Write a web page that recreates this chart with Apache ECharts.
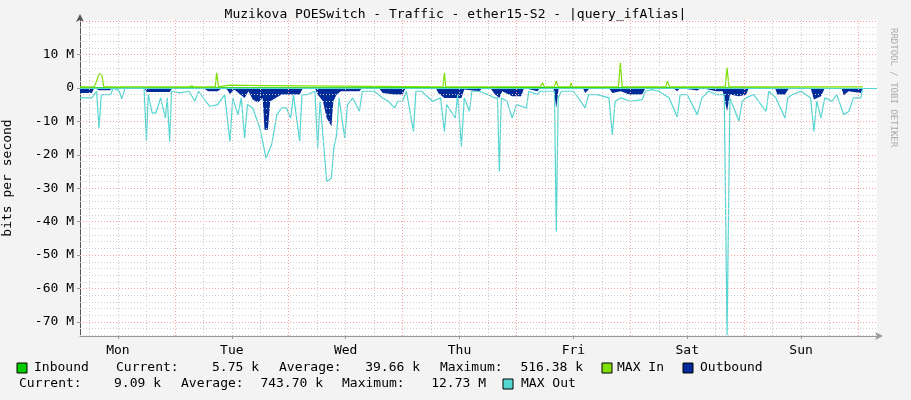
<!DOCTYPE html>
<html>
<head>
<meta charset="utf-8">
<script src="https://cdn.jsdelivr.net/npm/echarts@6/dist/echarts.min.js"></script>
<style>
  html, body { margin: 0; padding: 0; background: #f3f3f3; }
  #chart { width: 911px; height: 400px; }
</style>
</head>
<body>
<div id="chart"></div>
<script>
// hours since Mon 00:00, values in Mbit/s
const dayNames = ['Mon', 'Tue', 'Wed', 'Thu', 'Fri', 'Sat', 'Sun']
const dayLabelHours = [12, 36, 60, 84, 108, 132, 156]
const yLabelValues = [10, 0, -10, -20, -30, -40, -50, -60, -70]

const inbound = [[4, 0.2], [60, 0.2], [100, 0.3], [140, 0.2], [169, 0.2]]

const maxIn = [[4, 0.3], [7, 0.3], [7.5, 2], [8, 4.2], [8.6, 4], [9, 0.3], [18, 0.3], [18.1, 0.8], [18.4, 0.3],
  [27, 0.3], [27.5, 0.6], [28, 0.3], [32.5, 0.3], [32.8, 4.5], [33.2, 0.3], [35.6, 0.8], [36, 0.3], [42.9, 0.7],
  [43.3, 0.3], [80.5, 0.3], [80.8, 4.5], [81.1, 0.3], [101, 0.3], [101.5, 1.5], [101.9, 0.3], [104, 0.3],
  [104.4, 2], [104.8, 0.3], [107.3, 0.3], [107.5, 1.5], [107.8, 0.3], [117.5, 0.3], [117.9, 7.5], [118.3, 0.3],
  [127.5, 0.3], [127.8, 2], [128.3, 0.3], [140, 0.3], [140.4, 6], [140.8, 0.3], [154.3, 0.3], [154.6, 0.8],
  [155, 0.3], [169, 0.3]]

const outbound = [[4, -1.5], [6.5, -1.5], [7, 0], [8, -0.7], [10.3, -0.7], [11, 0], [17.5, 0], [18.1, -1.2],
  [22.9, -1.2], [23.5, 0], [30, 0], [31, -1], [33, -1], [34, 0], [35, -0.5], [35.6, -1.8], [36.5, -0.5],
  [38.7, -3], [39.5, -1], [40.4, -3.5], [41.5, -4.4], [42.5, -3], [42.9, -12.5], [43.6, -12.5], [44.1, -4],
  [46.5, -2], [48.4, -2], [50.3, -2], [51, 0], [53.5, 0], [54.1, -2], [55.2, -4], [56, -9], [57, -11.5],
  [57.4, -4], [58.1, -2], [59, -1], [62.9, -1], [63.5, 0], [67, 0], [67.8, -1.5], [70.3, -2], [72, -2],
  [72.6, 0], [79, 0], [79.5, -1.5], [80.8, -3], [83.1, -3], [84.4, -3], [85, -0.5], [88.2, -1], [88.8, 0],
  [90.5, 0], [91.4, -1.8], [92.4, -3], [93, -1], [95.1, -2.5], [97, -2.5], [97.6, 0], [100.4, -1], [101, 0],
  [103.8, 0], [104.4, -6], [104.9, 0], [110, 0], [110.5, -1.5], [111.5, 0], [115.5, 0], [116.2, -1.5],
  [118, -1], [119.8, -2], [122.5, -2], [123.2, 0], [129, 0], [129.9, -1], [130.5, 0], [134.1, -0.8], [135, 0],
  [138.1, -1], [139.5, -1], [140.4, -7], [141, -2], [142.9, -2.5], [144.4, -2], [145, 0], [150.5, 0],
  [151, -2], [152.6, -2], [153.5, 0], [158, 0], [158.7, -3.5], [160.2, -2.5], [161, 0], [164.5, 0],
  [165, -2.2], [166, -1], [168.6, -1.5], [169, 0]]

const maxOut = [[4, -3], [6.5, -3], [7.5, -1], [8, -12], [8.5, -2], [10.5, -2], [11, 0], [12.3, -1], [12.8, -3.3],
  [13.5, 0], [17.5, 0], [18, -16], [18.4, -2], [19.2, -7.5], [20, -7.5], [21, -3], [22, -9], [22.4, -3],
  [22.9, -16], [23.3, -1], [25, -1.5], [27, -1], [28.2, -4], [29, -1], [30.5, -4], [31.4, -5.5], [33, -5],
  [34.5, -2], [35.6, -16], [36.2, -3], [37.3, -8], [38, -3], [38.7, -15], [39.3, -5], [40.4, -6], [41.9, -12],
  [42.5, -16], [43.2, -21], [44.4, -17], [45.5, -8], [46.5, -6], [47.5, -6], [48.4, -9], [49, -2], [50.3, -16],
  [50.8, -2], [52, -2], [53.5, -1], [54.1, -18], [54.6, -4], [55.2, -14], [56, -28], [57, -27], [57.5, -18],
  [58.1, -14], [58.6, -3], [59.8, -15], [60.4, -5], [61.5, -3], [62.9, -7], [63.5, -1], [66, -1], [67.8, -3],
  [69, -4], [70.3, -6], [71, -4], [72, -4], [72.8, -1], [74.3, -13], [74.8, -1], [76, -1], [78.3, -4],
  [80, -3], [80.8, -13], [81.3, -5], [83.1, -9], [83.6, -2], [84, -2], [84.4, -17.5], [85, -3], [86.1, -7],
  [86.6, -1], [88.2, -1], [90, -2], [91.4, -3], [92, -3], [92.4, -25], [92.8, -3], [94, -4], [95.1, -9],
  [96, -5], [98.1, -6], [98.6, -1], [100.4, -2], [101, -1], [104, -1], [104.4, -43], [104.8, -3], [105.5, -1],
  [108, -1], [110.5, -6], [111.2, -2], [113, -2], [115.5, -3], [116.2, -14], [116.8, -4], [118, -3], [120, -4],
  [122.5, -3.5], [123.2, -1], [124.6, -0.5], [126, -1], [128.2, -3], [129.9, -8.7], [130.5, -2], [132, -2],
  [134.1, -8], [135.1, -3], [136.5, -1], [138.1, -2], [139.8, -2], [140.4, -74], [141, -3], [142.9, -10],
  [143.6, -4], [144.4, -3], [146, -2], [148.6, -7], [149.2, -1], [150.7, -3], [152.6, -9], [153.2, -3],
  [154.1, -2], [156, -1], [158, -3], [158.7, -13], [159.3, -4], [160.2, -9], [161, -3], [162.5, -4],
  [163.5, -2], [165, -8], [166.1, -7], [167, -3], [168.6, -3], [169, 0]]

const X_MIN = 4
const X_MAX = 172
const Y_MIN = -74.2
const Y_MAX = 20.3
const FONT = 'DejaVu Sans Mono'

// grid lines: every 6h (red on midnight), every 2M (red on 10M)
let vLines = []
for (let h = 6; h < X_MAX; h += 6) {
  vLines.push({ xAxis: h, lineStyle: { color: h % 24 === 0 ? '#f4a0a0' : '#c8c8c8', type: [1, 2], width: 1 } })
}
let hLines = []
for (let v = -74; v <= 20; v += 2) {
  if (v === 0) continue
  hLines.push({ yAxis: v, lineStyle: { color: v % 10 === 0 ? '#f4a0a0' : '#d0d0d0', type: [1, 2], width: 1 } })
}

function legendBox (x, y, color) {
  return { type: 'rect', shape: { x: x, y: y, width: 10, height: 10 }, style: { fill: color, stroke: '#000', lineWidth: 1 } }
}
function txt (x, y, text, align) {
  return { type: 'text', x: x, y: y, style: { text: text, font: '13px ' + FONT, fill: '#000', align: align || 'left', verticalAlign: 'middle' } }
}

const chart = echarts.init(document.getElementById('chart'), null, { renderer: 'canvas' })
chart.setOption({
  backgroundColor: '#f3f3f3',
  animation: false,
  title: {
    text: 'Muzikova POESwitch - Traffic - ether15-S2 - |query_ifAlias|',
    left: 'center', top: 3,
    textStyle: { fontFamily: FONT, fontSize: 13, fontWeight: 'normal', color: '#000' }
  },
  grid: { left: 80, right: 34, top: 20, bottom: 64, outerBoundsMode: 'none', containLabel: false, show: true, backgroundColor: '#fff', borderWidth: 0 },
  xAxis: {
    type: 'value', min: X_MIN, max: X_MAX,
    splitLine: { show: false },
    axisLine: { onZero: false, lineStyle: { color: '#999' }, symbol: ['none', 'arrow'], symbolSize: [6, 8], symbolOffset: [0, 6] },
    axisTick: { customValues: dayLabelHours, length: 3, lineStyle: { color: '#999' } },
    axisLabel: {
      customValues: dayLabelHours, margin: 8,
      fontFamily: FONT, fontSize: 13, color: '#000',
      formatter: v => dayNames[dayLabelHours.indexOf(v)]
    }
  },
  yAxis: {
    type: 'value', min: Y_MIN, max: Y_MAX,
    name: 'bits per second', nameLocation: 'middle', nameGap: 66, nameRotate: 90,
    nameTextStyle: { fontFamily: FONT, fontSize: 13, color: '#000' },
    splitLine: { show: false },
    axisLine: { show: true, lineStyle: { color: '#555' }, symbol: ['none', 'arrow'], symbolSize: [6, 8], symbolOffset: [0, 6] },
    axisTick: { customValues: yLabelValues, length: 3, lineStyle: { color: '#999' } },
    axisLabel: {
      customValues: yLabelValues, margin: 6,
      fontFamily: FONT, fontSize: 13, color: '#000',
      formatter: v => v === 0 ? '0' : v + ' M'
    }
  },
  graphic: [
    { type: 'text', x: 898, y: 28, rotation: -Math.PI / 2, style: { text: 'RRDTOOL / TOBI OETIKER', font: '9px ' + FONT, fill: '#aaa' } },
    legendBox(17, 363, '#00cc00'), txt(34, 368, 'Inbound'),
    txt(116, 368, 'Current:'), txt(259, 368, '5.75 k', 'right'),
    txt(279, 368, 'Average:'), txt(420, 368, '39.66 k', 'right'),
    txt(440, 368, 'Maximum:'), txt(583, 368, '516.38 k', 'right'),
    legendBox(602, 363, '#7ee000'), txt(617, 368, 'MAX In'),
    legendBox(683, 363, '#002a97'), txt(700, 368, 'Outbound'),
    txt(19, 384, 'Current:'), txt(161, 384, '9.09 k', 'right'),
    txt(181, 384, 'Average:'), txt(323, 384, '743.70 k', 'right'),
    txt(342, 384, 'Maximum:'), txt(486, 384, '12.73 M', 'right'),
    legendBox(503, 379, '#55d6d3'), txt(521, 384, 'MAX Out')
  ],
  series: [
    {
      type: 'line', data: [], silent: true,
      markLine: { symbol: 'none', silent: true, label: { show: false }, data: vLines.concat(hLines) }
    },
    {
      name: 'MAX Out', type: 'line', data: maxOut, showSymbol: false,
      lineStyle: { color: '#55d6d3', width: 1.2 }
    },
    {
      name: 'Outbound', type: 'line', data: outbound, showSymbol: false,
      lineStyle: { width: 0 }, areaStyle: { color: '#002a97', opacity: 1 }
    },
    {
      name: 'Inbound', type: 'line', data: inbound, showSymbol: false,
      lineStyle: { width: 0 }, areaStyle: { color: '#00cc00', opacity: 1 }
    },
    {
      name: 'MAX In', type: 'line', data: maxIn, showSymbol: false,
      lineStyle: { color: '#7ee000', width: 1.2 },
      markLine: { symbol: 'none', silent: true, label: { show: false }, data: [{ yAxis: 0, lineStyle: { color: '#55d6d3', type: 'solid', width: 1 } }] }
    }
  ]
})
</script>
</body>
</html>
